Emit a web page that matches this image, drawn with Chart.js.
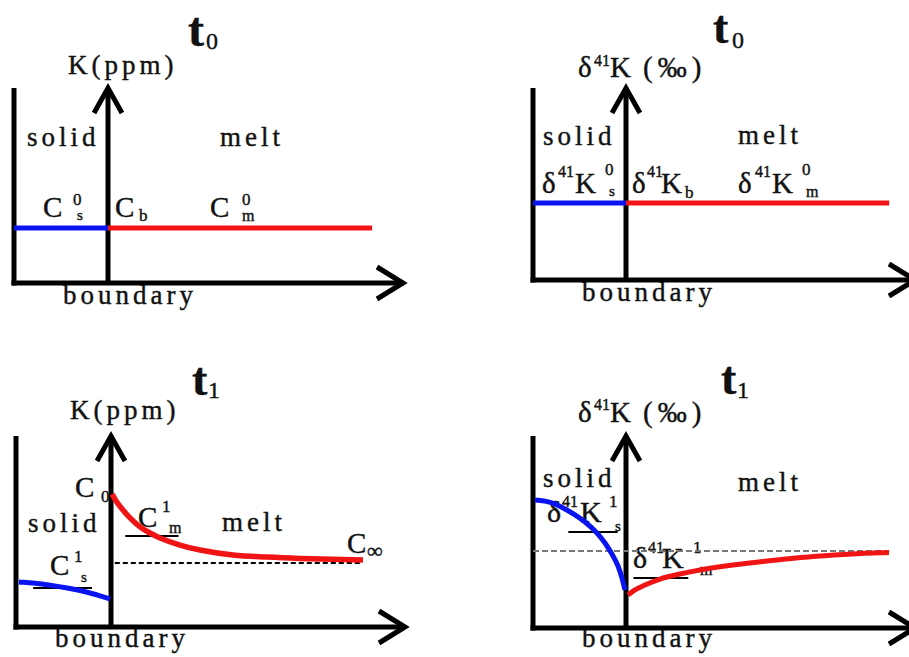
<!DOCTYPE html>
<html><head><meta charset="utf-8">
<script src="https://cdn.jsdelivr.net/npm/chart.js@4"></script>
<style>
html,body{margin:0;padding:0;background:#fff;width:909px;height:657px;overflow:hidden}
canvas{position:absolute;left:0;top:0;z-index:1}
#labels{position:absolute;left:0;top:0;width:909px;height:657px;z-index:0}
#labels span{position:absolute;white-space:nowrap;color:#111;font-family:"Liberation Serif",serif;line-height:1;-webkit-text-stroke:0.4px #111}
</style></head><body>
<div id="labels"></div>
<canvas id="pA" width="909" height="657"></canvas>
<canvas id="pB" width="909" height="657"></canvas>
<canvas id="pC" width="909" height="657"></canvas>
<canvas id="pD" width="909" height="657"></canvas>
<script>
// ---- DATA (x: distance, boundary at 0, solid from -1 to 0; y: arbitrary 0..10) ----
// Panel A: t0, K (ppm)
const aSolidX = [-1, 0];
const aSolidY = [2.82, 2.82];
const aMeltX = [0, 2.81];
const aMeltY = [2.82, 2.82];
// Panel B: t0, δ41K (‰)
const bSolidX = [-1, 0];
const bSolidY = [4.01, 4.01];
const bMeltX = [0, 2.83];
const bMeltY = [4.01, 4.01];
// Panel C: t1, K (ppm)
const cSolidX = [-0.97, -0.82, -0.64, -0.46, -0.22, -0.01];
const cSolidY = [2.36, 2.30, 2.19, 2.04, 1.78, 1.47];
const cMeltX = [0.011, 0.053, 0.126, 0.20, 0.305, 0.411, 0.516, 0.726, 0.937, 1.284, 1.642, 1.989, 2.653];
const cMeltY = [6.96, 6.60, 6.13, 5.71, 5.24, 4.92, 4.66, 4.29, 4.03, 3.77, 3.66, 3.59, 3.51];
const cInfX = [0.04, 2.65];
const cInfY = [3.35, 3.35];
const cMeltMeanX = [0.15, 0.71];
const cMeltMeanY = [4.76, 4.76];
const cSolidMeanX = [-0.82, -0.20];
const cSolidMeanY = [2.04, 2.04];
// Panel D: t1, δ41K (‰)
const dSolidX = [-0.978, -0.871, -0.763, -0.656, -0.548, -0.441, -0.333, -0.226, -0.151, -0.086, -0.043, -0.011];
const dSolidY = [6.67, 6.61, 6.46, 6.20, 5.89, 5.52, 5.05, 4.43, 3.85, 3.23, 2.60, 1.98];
const dMeltX = [0.022, 0.097, 0.204, 0.366, 0.581, 0.796, 1.151, 1.516, 1.882, 2.237, 2.527, 2.828];
const dMeltY = [1.72, 1.98, 2.24, 2.55, 2.81, 3.02, 3.28, 3.49, 3.67, 3.80, 3.88, 3.93];
const dInitX = [-1, 2.83];
const dInitY = [4.01, 4.01];
const dSolidMeanX = [-0.62, -0.09];
const dSolidMeanY = [5.0, 5.0];
const dMeltMeanX = [0.08, 0.67];
const dMeltMeanY = [2.6, 2.6];

// ---- helpers ----
const BLUE = '#0a14f0', RED = '#f01414';
const ASC = 0.8375; // baseline offset for line-height 1 in Liberation Serif
function pts(xs, ys) { return xs.map((x, i) => ({x: x, y: ys[i]})); }
function line(xs, ys, color, width, dash, smooth) {
  return {data: pts(xs, ys), borderColor: color, borderWidth: width, borderDash: dash || [],
    pointRadius: 0, fill: false, clip: false, cubicInterpolationMode: smooth ? 'monotone' : 'default',
    tension: 0, borderCapStyle: 'butt'};
}
function placeLabels(parts) {
  const host = document.getElementById('labels');
  for (const p of parts) {
    const s = document.createElement('span');
    s.textContent = p[0];
    s.style.left = p[1] + 'px';
    s.style.top = (p[2] - ASC * p[3]) + 'px';
    s.style.fontSize = p[3] + 'px';
    s.style.letterSpacing = (p[4] || 0) + 'px';
    if (p[5]) s.style.fontWeight = p[5];
    host.appendChild(s);
  }
}
function framePlugin(frame) {
  return {
    id: 'frame',
    beforeDatasetsDraw(chart) {
      const ctx = chart.ctx, xs = chart.scales.x, ys = chart.scales.y;
      const unit = frame.bnd - frame.left;
      const xl = xs.getPixelForValue(-1), x0 = xs.getPixelForValue(0);
      const xt = xs.getPixelForValue((frame.tip - frame.bnd) / unit);
      const yb = ys.getPixelForValue(0), yt = ys.getPixelForValue(10);
      ctx.save();
      ctx.strokeStyle = '#000';
      ctx.lineWidth = 5;
      ctx.lineCap = 'butt';
      ctx.lineJoin = 'miter';
      // outer solid wall
      ctx.beginPath(); ctx.moveTo(xl, yb + 2.5); ctx.lineTo(xl, yt); ctx.stroke();
      // distance axis
      ctx.beginPath(); ctx.moveTo(xl - 2.5, yb); ctx.lineTo(xt - 3, yb); ctx.stroke();
      ctx.beginPath(); ctx.moveTo(xt - 26, yb - 16); ctx.lineTo(xt, yb); ctx.lineTo(xt - 26, yb + 16); ctx.stroke();
      // boundary axis
      ctx.beginPath(); ctx.moveTo(x0, yb); ctx.lineTo(x0, yt + 3); ctx.stroke();
      ctx.beginPath(); ctx.moveTo(x0 - 14, yt + 25); ctx.lineTo(x0, yt); ctx.lineTo(x0 + 14, yt + 25); ctx.stroke();
      ctx.restore();
    }
  };
}
function makePanel(id, frame, datasets, labels) {
  const unit = frame.bnd - frame.left;
  const right = Math.min(frame.tip, 909);
  placeLabels(labels);
  return new Chart(document.getElementById(id), {
    type: 'line',
    data: {datasets: datasets},
    options: {
      responsive: false, animation: false, devicePixelRatio: 1, events: [],
      layout: {padding: {left: frame.left, right: 909 - right, top: frame.top, bottom: 657 - frame.bottom}},
      scales: {
        x: {type: 'linear', display: false, min: -1, max: (right - frame.bnd) / unit},
        y: {type: 'linear', display: false, min: 0, max: 10}
      },
      plugins: {legend: {display: false}, tooltip: {enabled: false}}
    },
    plugins: [framePlugin(frame)]
  });
}

// ---- Panel A ----
makePanel('pA', {left: 14, bnd: 108, bottom: 283, top: 88, tip: 403}, [
  line(aSolidX, aSolidY, BLUE, 5),
  line(aMeltX, aMeltY, RED, 5)
], [
  ['t', 188, 46, 48, 0, 'bold'], ['0', 206, 49, 24],
  ['K(ppm)', 68, 75, 27, 4],
  ['solid', 27, 147, 27, 4], ['melt', 220, 147, 27, 4],
  ['C', 43, 217, 29], ['0', 73, 205, 17], ['s', 77, 221, 15],
  ['C', 115, 217, 29], ['b', 139, 221, 17],
  ['C', 210, 217, 29], ['0', 242, 205, 17], ['m', 242, 221, 16],
  ['boundary', 63, 305, 27, 4]
]);

// ---- Panel B ----
makePanel('pB', {left: 533, bnd: 626, bottom: 280, top: 88, tip: 915}, [
  line(bSolidX, bSolidY, BLUE, 5),
  line(bMeltX, bMeltY, RED, 5)
], [
  ['t', 713, 44, 46, 0, 'bold'], ['0', 732, 48, 24],
  ['δ', 578, 77, 29], ['41', 594, 66, 16], ['K', 610, 77, 29], ['(‰)', 643, 77, 29, 5],
  ['solid', 543, 146, 27, 4], ['melt', 738, 145, 27, 4],
  ['δ', 542, 193, 29], ['41', 558, 177, 16], ['K', 575, 193, 29], ['0', 605, 175, 17], ['s', 609, 197, 15],
  ['δ', 632, 193, 29], ['41', 647, 177, 16], ['K', 661, 193, 29], ['b', 685, 198, 17],
  ['δ', 738, 193, 29], ['41', 755, 177, 16], ['K', 772, 193, 29], ['0', 802, 175, 17], ['m', 806, 197, 16],
  ['boundary', 582, 302, 27, 4]
]);

// ---- Panel C ----
makePanel('pC', {left: 16, bnd: 111, bottom: 627, top: 436, tip: 405}, [
  line(cSolidX, cSolidY, BLUE, 5, null, true),
  line(cMeltX, cMeltY, RED, 5.5, null, true),
  line(cInfX, cInfY, '#000', 2, [5, 3]),
  line(cMeltMeanX, cMeltMeanY, '#000', 2),
  line(cSolidMeanX, cSolidMeanY, '#000', 2)
], [
  ['t', 192, 396, 46, 0, 'bold'], ['1', 208, 398, 24],
  ['K(ppm)', 70, 420, 27, 4],
  ['C', 75, 497, 29], ['0', 101, 502, 17],
  ['solid', 28, 533, 27, 4],
  ['C', 138, 527, 29], ['1', 162, 512, 17], ['m', 169, 533, 16],
  ['melt', 222, 532, 27, 4],
  ['C', 347, 553, 29], ['∞', 367, 558, 22],
  ['C', 50, 575, 29], ['1', 74, 562, 17], ['s', 81, 583, 15],
  ['boundary', 55, 648, 27, 4]
]);

// ---- Panel D ----
makePanel('pD', {left: 533, bnd: 626, bottom: 628, top: 436, tip: 915}, [
  line(dSolidX, dSolidY, BLUE, 5, null, true),
  line(dMeltX, dMeltY, RED, 5, null, true),
  line(dInitX, dInitY, '#777', 2, [6, 3]),
  line(dSolidMeanX, dSolidMeanY, '#000', 2),
  line(dMeltMeanX, dMeltMeanY, '#000', 2)
], [
  ['t', 721, 395, 46, 0, 'bold'], ['1', 737, 398, 24],
  ['δ', 578, 422, 29], ['41', 594, 410, 16], ['K', 610, 422, 29], ['(‰)', 643, 422, 29, 5],
  ['solid', 543, 488, 27, 4], ['melt', 738, 492, 27, 4],
  ['δ', 547, 522, 30], ['41', 562, 507, 16], ['K', 580, 522, 30], ['1', 609, 507, 17], ['s', 615, 532, 15],
  ['δ', 633, 568, 30], ['41', 648, 553, 16], ['K', 662, 568, 30], ['1', 693, 553, 17], ['m', 700, 575, 16],
  ['boundary', 582, 648, 27, 4]
]);
</script>
</body></html>
